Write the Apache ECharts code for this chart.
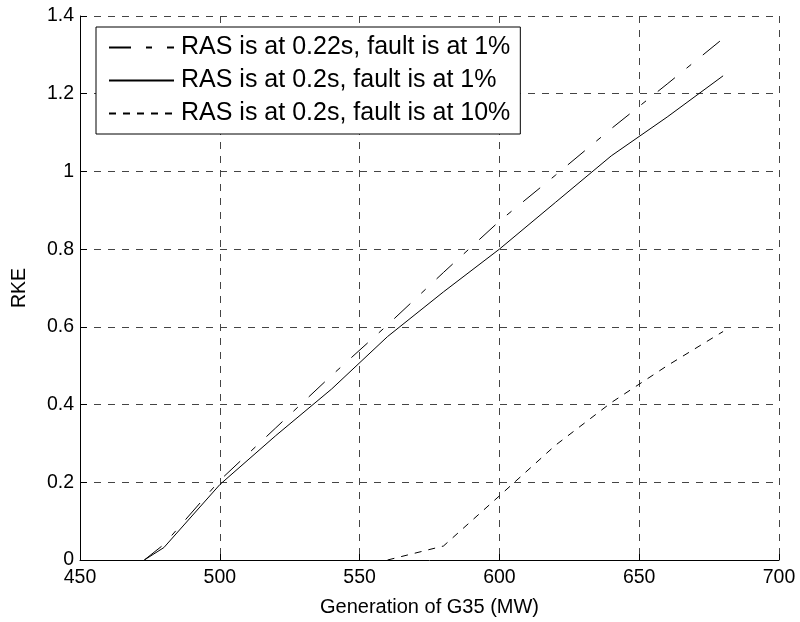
<!DOCTYPE html>
<html>
<head>
<meta charset="utf-8">
<script src="https://cdn.jsdelivr.net/npm/echarts@6/dist/echarts.min.js"></script>
<style>
  html, body { margin: 0; padding: 0; background: #fff; }
  #chart { width: 800px; height: 622px; }
</style>
</head>
<body>
<div id="chart"></div>
<script>
// Generation of G35 (MW) against RKE for three RAS / fault cases
const xTicks = [450, 500, 550, 600, 650, 700];
const yTicks = [0, 0.2, 0.4, 0.6, 0.8, 1, 1.2, 1.4];

const seriesNames = [
  'RAS is at 0.22s, fault is at 1%',
  'RAS is at 0.2s, fault is at 1%',
  'RAS is at 0.2s, fault is at 10%'
];

// RAS at 0.22 s, fault at 1 %
const gen022 = [473, 480, 500, 520, 540, 560, 580, 600, 620, 640, 660, 680];
const rke022 = [0, 0.04, 0.205, 0.34, 0.475, 0.605, 0.74, 0.872, 0.99, 1.11, 1.225, 1.342];

// RAS at 0.2 s, fault at 1 %
const gen020 = [473, 480, 500, 520, 540, 560, 580, 600, 620, 640, 660, 680];
const rke020 = [0, 0.032, 0.194, 0.32, 0.44, 0.575, 0.69, 0.80, 0.92, 1.04, 1.14, 1.246];

// RAS at 0.2 s, fault at 10 %
const gen020f10 = [560, 580, 600, 620, 640, 660, 680];
const rke020f10 = [0, 0.036, 0.165, 0.295, 0.405, 0.50, 0.588];

const pairs = (xs, ys) => xs.map((x, i) => [x, ys[i]]);

const FONT = '"Liberation Sans", Arial, Helvetica, sans-serif';
const gridLine = { color: '#444', width: 1, type: [7, 7] };

const chart = echarts.init(document.getElementById('chart'), null, { renderer: 'canvas' });

chart.setOption({
  backgroundColor: '#ffffff',
  animation: false,
  grid: { left: 80, right: 21, top: 16, bottom: 59.5, containLabel: false },
  legend: {
    orient: 'vertical',
    left: 96,
    top: 27,
    padding: [8, 10, 8, 12],
    itemGap: 8,
    itemWidth: 65,
    itemHeight: 14,
    backgroundColor: '#ffffff',
    borderColor: '#000',
    borderWidth: 1,
    borderRadius: 0,
    // line-only keys: hide the marker drawn in the middle of each key
    itemStyle: { opacity: 0 },
    textStyle: { fontFamily: FONT, fontSize: 25, color: '#000', lineHeight: 25, padding: [0, 0, 0, 2] },
    data: seriesNames
  },
  xAxis: {
    type: 'value',
    min: xTicks[0],
    max: xTicks[xTicks.length - 1],
    interval: 50,
    name: 'Generation of G35 (MW)',
    nameLocation: 'middle',
    nameGap: 37,
    nameTextStyle: { fontFamily: FONT, fontSize: 20, color: '#000' },
    axisLine: { show: true, onZero: false, lineStyle: { color: '#000', width: 1 } },
    axisTick: { show: true, inside: true, length: 6, lineStyle: { color: '#000' } },
    axisLabel: { fontFamily: FONT, fontSize: 19.5, color: '#000', margin: 8 },
    splitLine: { show: true, lineStyle: gridLine }
  },
  yAxis: {
    type: 'value',
    min: yTicks[0],
    max: yTicks[yTicks.length - 1],
    interval: 0.2,
    name: 'RKE',
    nameLocation: 'middle',
    nameGap: 50,
    nameTextStyle: { fontFamily: FONT, fontSize: 19.5, color: '#000' },
    axisLine: { show: true, onZero: false, lineStyle: { color: '#000', width: 1 } },
    axisTick: { show: true, inside: true, length: 7, lineStyle: { color: '#000' } },
    axisLabel: {
      fontFamily: FONT, fontSize: 19.5, color: '#000', margin: 6,
      formatter: v => String(Math.round(v * 10) / 10)
    },
    splitLine: { show: true, lineStyle: gridLine }
  },
  series: [
    {
      name: seriesNames[0],
      type: 'line',
      symbol: 'none',
      data: pairs(gen022, rke022),
      lineStyle: { color: '#000', width: 1, type: [22, 15, 6, 15] },
      itemStyle: { color: '#000' },
      z: 3
    },
    {
      name: seriesNames[1],
      type: 'line',
      symbol: 'none',
      data: pairs(gen020, rke020),
      lineStyle: { color: '#000', width: 1, type: 'solid' },
      itemStyle: { color: '#000' },
      z: 3
    },
    {
      name: seriesNames[2],
      type: 'line',
      symbol: 'none',
      data: pairs(gen020f10, rke020f10),
      lineStyle: { color: '#000', width: 1, type: [7, 7] },
      itemStyle: { color: '#000' },
      z: 3
    }
  ]
});
</script>
</body>
</html>
